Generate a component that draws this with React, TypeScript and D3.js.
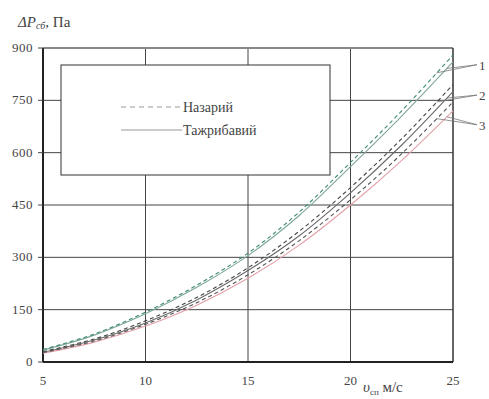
import { useEffect, useRef } from 'react'
import * as d3 from 'd3'

// скорость, м/с
const speeds = [5, 7.5, 10, 12.5, 15, 17.5, 20, 22.5, 25]

// кривые 1-3: назарий (пунктир) и тажрибавий (сплошная)
const theory1 = [36, 80, 143, 220, 312, 430, 572, 720, 880]
const exper1 = [34, 77, 138, 214, 305, 420, 560, 705, 860]
const theory2 = [30, 66, 118, 185, 270, 375, 500, 640, 795]
const exper2 = [28, 63, 112, 178, 262, 362, 485, 622, 775]
const theory3 = [27, 60, 108, 170, 250, 348, 465, 597, 745]
const exper3 = [25, 57, 103, 163, 240, 335, 450, 578, 720]

const xTicks = [5, 10, 15, 20, 25]
const yTicks = [0, 150, 300, 450, 600, 750, 900]
const curveLabels = ['1', '2', '3']

const App = () => {
  const chartRef = useRef<SVGSVGElement | null>(null)

  useEffect(() => {
    if (!chartRef.current) return
    const svg = d3.select(chartRef.current)
    svg.selectAll('*').remove()

    const margin = { top: 48, right: 36, bottom: 37, left: 43 }
    const width = 489 - margin.left - margin.right
    const height = 399 - margin.top - margin.bottom

    const g = svg.append('g').attr('transform', `translate(${margin.left},${margin.top})`)

    const x = d3.scaleLinear().domain([5, 25]).range([0, width])
    const y = d3.scaleLinear().domain([0, 900]).range([height, 0])

    // сетка
    g.selectAll('.vgrid')
      .data(xTicks.slice(1, -1))
      .enter()
      .append('line')
      .attr('x1', d => x(d))
      .attr('x2', d => x(d))
      .attr('y1', 0)
      .attr('y2', height)
      .attr('stroke', '#444')
      .attr('stroke-width', 1)

    g.selectAll('.hgrid')
      .data(yTicks.slice(1))
      .enter()
      .append('line')
      .attr('x1', 0)
      .attr('x2', width)
      .attr('y1', d => y(d))
      .attr('y2', d => y(d))
      .attr('stroke', d => (d === 900 ? '#888' : '#444'))
      .attr('stroke-width', d => (d === 900 ? 2 : 1))

    // рамка
    g.append('line').attr('x1', width).attr('x2', width).attr('y1', 0).attr('y2', height)
      .attr('stroke', '#333').attr('stroke-width', 1.5)
    g.append('line').attr('x1', 0).attr('x2', 0).attr('y1', 0).attr('y2', height)
      .attr('stroke', '#222').attr('stroke-width', 2)
    g.append('line').attr('x1', 0).attr('x2', width).attr('y1', height).attr('y2', height)
      .attr('stroke', '#222').attr('stroke-width', 2)

    // деления
    g.selectAll('.ytick')
      .data(yTicks)
      .enter()
      .append('line')
      .attr('x1', -5)
      .attr('x2', 0)
      .attr('y1', d => y(d))
      .attr('y2', d => y(d))
      .attr('stroke', '#444')

    g.selectAll('.ylab')
      .data(yTicks)
      .enter()
      .append('text')
      .attr('x', -10)
      .attr('y', d => y(d) + 4)
      .attr('text-anchor', 'end')
      .attr('font-size', 13)
      .attr('letter-spacing', 0.5)
      .attr('fill', '#444')
      .text(d => d)

    g.selectAll('.xlab')
      .data(xTicks)
      .enter()
      .append('text')
      .attr('x', d => x(d))
      .attr('y', height + 23)
      .attr('text-anchor', 'middle')
      .attr('font-size', 13)
      .attr('fill', '#444')
      .text(d => d)

    // кривые
    const line = d3.line<number>()
      .x((_, i) => x(speeds[i]))
      .y(d => y(d))
      .curve(d3.curveCatmullRom)

    const series = [
      { values: exper1, color: '#7fa79a', dash: null },
      { values: theory1, color: '#3f8a72', dash: '4,3' },
      { values: exper2, color: '#6a6a6a', dash: null },
      { values: theory2, color: '#444', dash: '4,3' },
      { values: exper3, color: '#e3a0a8', dash: null },
      { values: theory3, color: '#555', dash: '4,3' },
    ]

    series.forEach(s => {
      g.append('path')
        .datum(s.values)
        .attr('d', line)
        .attr('fill', 'none')
        .attr('stroke', s.color)
        .attr('stroke-width', 1.1)
        .attr('stroke-dasharray', s.dash)
    })

    // выноски 1, 2, 3
    const pairs = [[theory1, exper1], [theory2, exper2], [theory3, exper3]]
    const labelY = [852, 765, 680]
    pairs.forEach((p, i) => {
      const lx = width + 24
      const ly = y(labelY[i])
      p.forEach((vals, j) => {
        const v = 24.2 + j * 0.5
        const k = speeds.length - 2
        const t = (v - speeds[k]) / (speeds[k + 1] - speeds[k])
        const val = vals[k] + (vals[k + 1] - vals[k]) * t
        g.append('line')
          .attr('x1', lx)
          .attr('y1', ly)
          .attr('x2', x(v))
          .attr('y2', y(val))
          .attr('stroke', '#777')
          .attr('stroke-width', 0.8)
      })
      g.append('text')
        .attr('x', lx + 2)
        .attr('y', ly + 5)
        .attr('font-size', 13)
        .attr('fill', '#444')
        .text(curveLabels[i])
    })

    // легенда
    const lg = g.append('g').attr('transform', `translate(${61 - margin.left},${65 - margin.top})`)
    lg.append('rect')
      .attr('width', 269)
      .attr('height', 110)
      .attr('fill', 'white')
      .attr('stroke', '#333')
      .attr('stroke-width', 1)
    lg.append('line').attr('x1', 60).attr('x2', 121).attr('y1', 42).attr('y2', 42)
      .attr('stroke', '#999').attr('stroke-width', 1.2).attr('stroke-dasharray', '5,4')
    lg.append('text').attr('x', 122).attr('y', 47)
      .attr('font-size', 14).attr('fill', '#444')
      .text('Назарий')
    lg.append('line').attr('x1', 60).attr('x2', 121).attr('y1', 65).attr('y2', 65)
      .attr('stroke', '#999').attr('stroke-width', 1.2)
    lg.append('text').attr('x', 122).attr('y', 70)
      .attr('font-size', 14).attr('fill', '#444')
      .text('Тажрибавий')

    // подписи осей
    const yt = svg.append('text')
      .attr('x', 18)
      .attr('y', 27)
      .attr('font-size', 15)
      .attr('fill', '#444')
    yt.append('tspan').attr('font-style', 'italic').text('ΔP')
    yt.append('tspan').attr('font-style', 'italic').attr('font-size', 10).attr('dy', 2).text('сб')
    yt.append('tspan').attr('dy', -2).text(', Па')

    const xt = svg.append('text')
      .attr('x', 363)
      .attr('y', 392)
      .attr('font-size', 15)
      .attr('fill', '#444')
    xt.append('tspan').attr('font-style', 'italic').text('υ')
    xt.append('tspan').attr('font-size', 9).attr('dy', 3).text('сп')
    xt.append('tspan').attr('dy', -3).text(' м/с')
  }, [])

  return (
    <svg
      ref={chartRef}
      width={489}
      height={399}
      fontFamily="'Liberation Serif', 'Times New Roman', serif"
      style={{ position: 'absolute', left: 0, top: 0, display: 'block', background: 'white' }}
    />
  )
}

export default App
